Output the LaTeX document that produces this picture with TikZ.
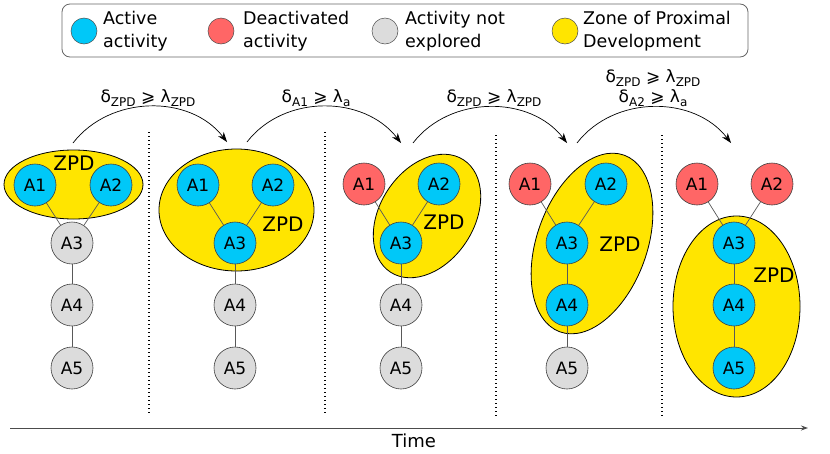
\documentclass[tikz,border=0pt]{standalone}
\usepackage{fontspec}
\setmainfont{DejaVu Sans}
\usetikzlibrary{shapes.geometric,arrows.meta}
\definecolor{actblue}{HTML}{00C8F8}
\definecolor{deactred}{HTML}{FF6666}
\definecolor{unexpgrey}{HTML}{DCDCDC}
\definecolor{zpdyel}{HTML}{FFE500}
\newcommand\sbs[1]{\raisebox{-0.35ex}{\fontsize{12}{12}\selectfont #1}}
\begin{document}
\begin{tikzpicture}[x=1pt,y=-1pt,
  anode/.style={circle, minimum size=42pt, inner sep=0pt, draw=black!75, line width=0.6pt, font=\fontsize{17}{17}\selectfont},
  actn/.style={anode, fill=actblue},
  deactn/.style={anode, fill=deactred},
  unexpn/.style={anode, fill=unexpgrey},
  legdot/.style={circle, minimum size=26pt, inner sep=0pt, draw=black!70, line width=0.5pt},
  legtext/.style={anchor=west, align=left, inner sep=0pt, font=\fontsize{17.5}{23}\selectfont},
  zpd/.style={ellipse, draw=black, line width=0.8pt, fill=zpdyel, inner sep=0pt},
  zpdlabel/.style={font=\fontsize{20}{20}\selectfont, inner sep=0pt},
  link/.style={draw=black!65, line width=0.7pt},
  sep/.style={line width=1.3pt, dash pattern=on 1.3pt off 2.7pt},
  trans/.style={line width=0.7pt, -{Stealth[length=10pt,width=7pt]}},
  formula/.style={font=\fontsize{17}{20}\selectfont, inner sep=0pt, align=center}
]
\useasboundingbox (0,0) rectangle (830,453);

% legend
\draw[draw=black!60, line width=0.8pt, rounded corners=8pt] (62,4) rectangle (748,57);
\node[legdot, fill=actblue] (l1) at (84,31) {};
\node[legtext] (lt1) at (103,31.5) {Active\\activity};
\node[legdot, fill=deactred] (l2) at (221,31) {};
\node[legtext] (lt2) at (243,31.5) {Deactivated\\activity};
\node[legdot, fill=unexpgrey] (l3) at (385,31) {};
\node[legtext] (lt3) at (405,31.5) {Activity not\\explored};
\node[legdot, fill=zpdyel] (l4) at (565,31) {};
\node[legtext] (lt4) at (583,31.5) {Zone of Proximal\\Development};

% separators
\coordinate (d1a) at (149,132); \coordinate (d1b) at (149,415);
\coordinate (d2a) at (325,132); \coordinate (d2b) at (325,415);
\coordinate (d3a) at (496,135); \coordinate (d3b) at (496,418);
\coordinate (d4a) at (662,135); \coordinate (d4b) at (662,418);
\draw[sep] (d1a) -- (d1b);
\draw[sep] (d2a) -- (d2b);
\draw[sep] (d3a) -- (d3b);
\draw[sep] (d4a) -- (d4b);

% ZPD ellipses
\node[zpd, minimum width=139pt, minimum height=69pt] (z1) at (73.5,184.5) {};
\node[zpd, minimum width=155pt, minimum height=122pt] (z2) at (236.5,210) {};
\node[zpd, minimum width=134pt, minimum height=94pt, rotate=57] (z3) at (427,216) {};
\node[zpd, minimum width=188pt, minimum height=110pt, rotate=70] (z4) at (592,243.5) {};
\node[zpd, minimum width=127pt, minimum height=181pt] (z5) at (736.5,306.5) {};

% panel 1
\node[actn] (p1a1) at (35,185) {A1};
\node[actn] (p1a2) at (111,185) {A2};
\node[unexpn] (p1a3) at (72,243) {A3};
\node[unexpn] (p1a4) at (72,305) {A4};
\node[unexpn] (p1a5) at (72,368) {A5};
% panel 2
\node[actn] (p2a1) at (198,185) {A1};
\node[actn] (p2a2) at (273,185) {A2};
\node[actn] (p2a3) at (235,243) {A3};
\node[unexpn] (p2a4) at (235,305) {A4};
\node[unexpn] (p2a5) at (235,368) {A5};
% panel 3
\node[deactn] (p3a1) at (364,184) {A1};
\node[actn] (p3a2) at (439,184) {A2};
\node[actn] (p3a3) at (401,243) {A3};
\node[unexpn] (p3a4) at (401,305) {A4};
\node[unexpn] (p3a5) at (401,368) {A5};
% panel 4
\node[deactn] (p4a1) at (530,184) {A1};
\node[actn] (p4a2) at (606,184) {A2};
\node[actn] (p4a3) at (567,243) {A3};
\node[actn] (p4a4) at (567,305) {A4};
\node[unexpn] (p4a5) at (567,368) {A5};
% panel 5
\node[deactn] (p5a1) at (697,184) {A1};
\node[deactn] (p5a2) at (772,184) {A2};
\node[actn] (p5a3) at (734,243) {A3};
\node[actn] (p5a4) at (734,305) {A4};
\node[actn] (p5a5) at (734,368) {A5};

\foreach \p in {1,...,5}{
  \draw[link] (p\p a1) -- (p\p a3);
  \draw[link] (p\p a2) -- (p\p a3);
  \draw[link] (p\p a3) -- (p\p a4);
  \draw[link] (p\p a4) -- (p\p a5);
}

% ZPD labels
\node[zpdlabel] (zl1) at (74,163) {ZPD};
\node[zpdlabel] (zl2) at (283,224) {ZPD};
\node[zpdlabel] (zl3) at (444,222) {ZPD};
\node[zpdlabel] (zl4) at (620,244) {ZPD};
\node[zpdlabel] (zl5) at (774,275) {ZPD};

% transitions
\coordinate (s1) at (73,143);  \coordinate (e1) at (227,142);
\coordinate (s2) at (247,142); \coordinate (e2) at (401,143);
\coordinate (s3) at (413,143); \coordinate (e3) at (567,143);
\coordinate (s4) at (577,143); \coordinate (e4) at (731,143);
\draw[trans] (s1) .. controls +(37,-48) and +(-37,-48) .. (e1);
\draw[trans] (s2) .. controls +(37,-48) and +(-37,-48) .. (e2);
\draw[trans] (s3) .. controls +(37,-48) and +(-37,-48) .. (e3);
\draw[trans] (s4) .. controls +(37,-48) and +(-37,-48) .. (e4);

\node[formula] (f1) at (148,98) {δ\sbs{ZPD} ⩾ λ\sbs{ZPD}};
\node[formula] (f2) at (316,98) {δ\sbs{A1} ⩾ λ\sbs{a}};
\node[formula] (f3) at (494,98) {δ\sbs{ZPD} ⩾ λ\sbs{ZPD}};
\node[formula] (f4a) at (653,78) {δ\sbs{ZPD} ⩾ λ\sbs{ZPD}};
\node[formula] (f4b) at (653,98) {δ\sbs{A2} ⩾ λ\sbs{a}};

% time axis
\coordinate (t0) at (10,428); \coordinate (t1) at (808,428);
\draw[black!70, line width=0.9pt, -{Stealth[length=7pt,width=5pt]}] (t0) -- (t1);
\node[font=\fontsize{18}{18}\selectfont, inner sep=0pt] (time) at (414,441) {Time};
\end{tikzpicture}
\end{document}
